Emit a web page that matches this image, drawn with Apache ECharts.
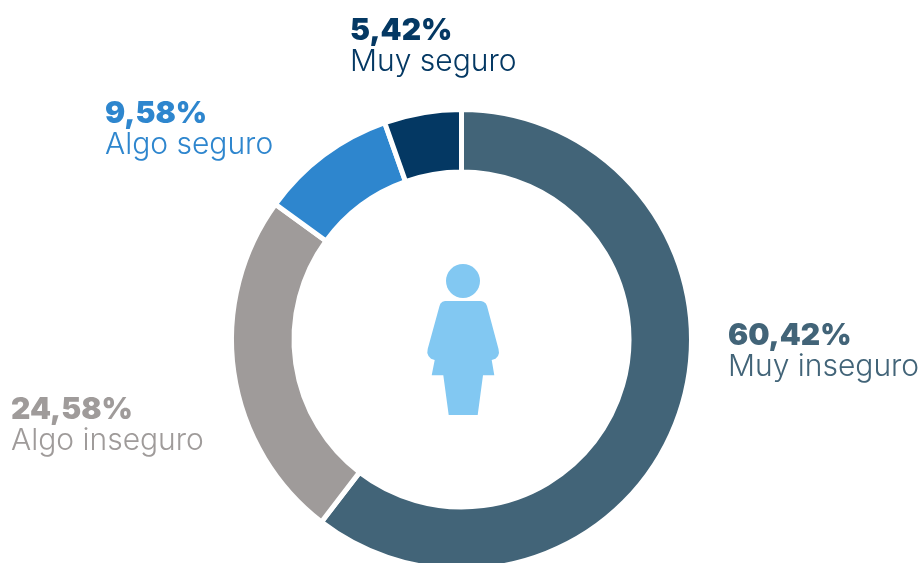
<!DOCTYPE html>
<html><head><meta charset="utf-8">
<style>html,body{margin:0;padding:0;background:#fff}#c{width:922px;height:563px}</style>
<script src="https://cdn.jsdelivr.net/npm/echarts@6/dist/echarts.min.js"></script>
</head><body><div id="c"></div>
<script>
const categories = ['Muy inseguro','Algo inseguro','Algo seguro','Muy seguro'];
const values = [60.42,24.58,9.58,5.42];
const colors = ['#426478','#9F9B9A','#2E86CE','#043863'];
const labelPos = [[728,352],[11,426],[105,130],[350,47]];
const iconColor = '#82C8F2';
const FONT = 'Inter';
const bodyOutline = [[439.5,306],[440.5,303.5],[442.5,301.8],[445,301],[481,301],[483.5,301.8],[485.8,303.5],[487,306],
 [498.5,349],[499,353],[498,356],[495.5,358.7],[491.7,360],[494.3,375.3],[483,375.3],[477.7,415],[448.7,415],[443.3,375.3],
 [431.7,375.3],[434.7,360],[431,358.7],[428.5,356],[427.3,353],[427.7,349]];
const chart = echarts.init(document.getElementById('c'),null,{renderer:'canvas'});
const fmt = v => v.toFixed(2).replace('.',',') + '%';
chart.setOption({
  animation:false,
  backgroundColor:'#fff',
  series:[{
    type:'pie',
    center:[461.5,339.5],
    radius:[167.5,230],
    startAngle:90,
    clockwise:true,
    silent:true,
    itemStyle:{borderColor:'#fff',borderWidth:5},
    labelLine:{show:false},
    data:categories.map((n,i)=>({
      name:n,value:values[i],
      itemStyle:{color:colors[i]},
      label:{
        show:true,position:'outside',overflow:'none',
        formatter:'{a|'+fmt(values[i])+'}\n{b|'+n+'}',
        align:'left',
        rich:{
          a:{fontFamily:FONT,fontWeight:900,fontSize:30,lineHeight:30,color:colors[i],align:'left'},
          b:{fontFamily:FONT,fontWeight:300,fontSize:30,lineHeight:32,color:colors[i],align:'left'}
        }
      }
    })),
    labelLayout:p=>{
      const i=p.dataIndex;
      return {x:labelPos[i][0],y:labelPos[i][1],align:'left',verticalAlign:'middle',hideOverlap:false,moveOverlap:false};
    }
  }],
  graphic:[
    {type:'circle',shape:{cx:463,cy:281,r:17},style:{fill:iconColor},silent:true},
    {type:'polygon',silent:true,style:{fill:iconColor},shape:{points:bodyOutline}}
  ]
});
</script></body></html>
